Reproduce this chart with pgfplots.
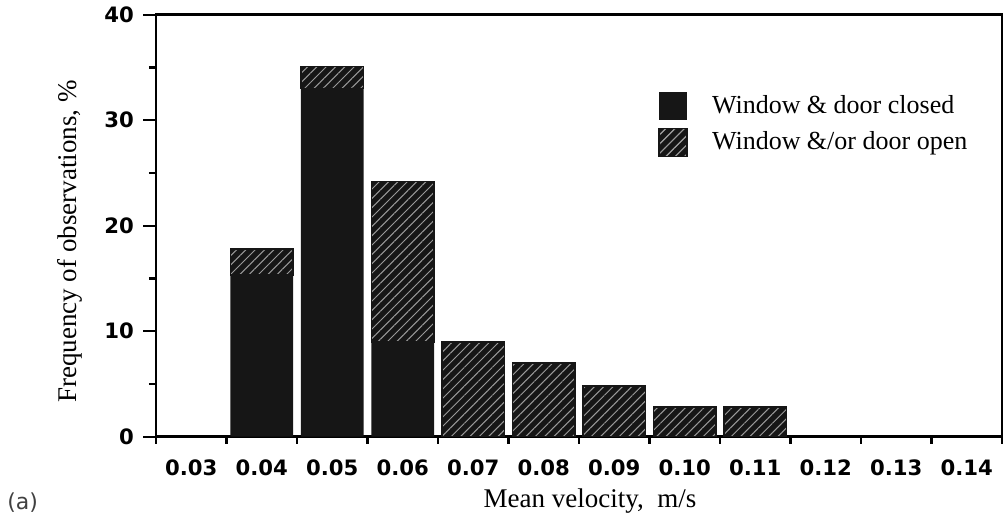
\documentclass[border=0pt]{standalone}
\usepackage{pgfplots}
\pgfplotsset{compat=1.18}
\usepackage{fontspec}
\setmainfont{Liberation Serif}
\newfontfamily\tickfont{DejaVu Sans}
\usetikzlibrary{patterns.meta}
\definecolor{barblack}{HTML}{161616}
\definecolor{hatchline}{HTML}{9A9A9A}
\begin{document}
\begin{tikzpicture}
\begin{axis}[
  scale only axis,
  width=423pt, height=211pt,
  xmin=-0.5, xmax=11.5, ymin=0, ymax=40,
  clip=false,
  ybar stacked, bar width=0.89,
  axis line style={line width=1.2pt},
  xtick={0,...,11},
  xticklabels={0.03,0.04,0.05,0.06,0.07,0.08,0.09,0.10,0.11,0.12,0.13,0.14},
  major x tick style={draw=none},
  minor xtick={-0.5,0.5,...,11.5},
  ytick={0,10,20,30,40},
  minor ytick={5,15,25,35},
  tick align=outside,
  xtick pos=bottom, ytick pos=left,
  major tick length=6.5pt, minor tick length=3.6pt,
  every tick/.append style={line width=1.1pt, black},
  /pgf/number format/assume math mode=true,
  xticklabel style={font=\tickfont\bfseries\fontsize{10.6}{12}\selectfont, yshift=-1.3pt},
  yticklabel style={font=\tickfont\bfseries\fontsize{10.6}{12}\selectfont, xshift=-1pt},
  ylabel={Frequency of observations, \%},
  ylabel style={at={(axis description cs:-0.1017,0.462)}, anchor=center, font=\fontsize{13.5}{16}\selectfont},
  xlabel={Mean velocity,\ \ m/s},
  xlabel style={at={(axis description cs:0.513,-0.152)}, anchor=center, font=\fontsize{13.5}{16}\selectfont},
  legend style={at={(axis description cs:0.5934,0.8187)}, anchor=north west, draw=none, fill=none, inner sep=0pt, row sep=4pt, font=\fontsize{13}{15}\selectfont, nodes={inner sep=1pt}, /tikz/every odd column/.append style={column sep=11pt}},
  legend cell align=left,
]
\addplot[fill=barblack, draw=none,
  legend image code/.code={\fill[barblack] (0pt,-7pt) rectangle (14pt,7pt);}]
  coordinates {(1,15.3) (2,33.0) (3,9.0) (4,0) (5,0) (6,0) (7,0) (8,0)};
\addlegendentry{Window \& door closed}
\addplot[fill=barblack, draw=barblack, line width=0.8pt,
  postaction={pattern={Lines[angle=45,distance=3.3pt,line width=0.5pt]}, pattern color=hatchline},
  legend image code/.code={\draw[fill=barblack, draw=barblack, postaction={pattern={Lines[angle=45,distance=3.3pt,line width=0.5pt]}, pattern color=hatchline}] (0pt,-7pt) rectangle (14pt,7pt);}]
  coordinates {(1,2.5) (2,2.1) (3,15.2) (4,9.0) (5,7.0) (6,4.8) (7,2.8) (8,2.8)};
\addlegendentry{Window \&/or door open}
\node[anchor=west, font=\tickfont\fontsize{11}{13}\selectfont, text=black!75, inner sep=0pt] at (axis description cs:-0.1761,-0.1564) {(a)};
\path (axis description cs:-0.1844,-0.2062) rectangle (axis description cs:1.0071,1.0308);
\end{axis}
\end{tikzpicture}
\end{document}
